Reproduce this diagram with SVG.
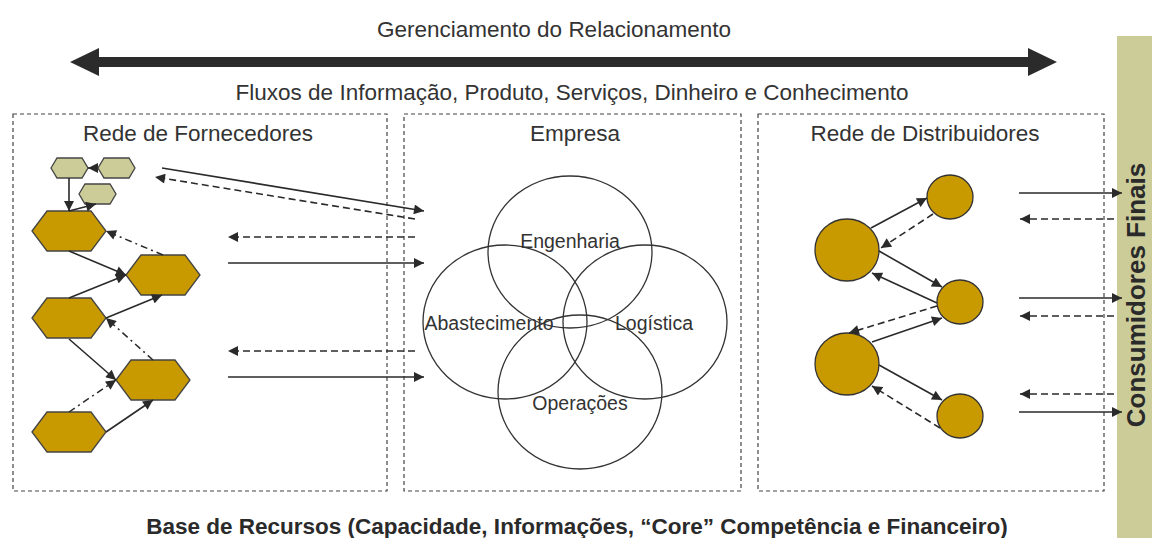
<svg xmlns="http://www.w3.org/2000/svg" width="1152" height="538" viewBox="0 0 1152 538">
<defs>
<style>
.t{font-family:"Liberation Sans",Arial,sans-serif;fill:#333;font-size:22.5px;text-anchor:middle}
.c{font-family:"Liberation Sans",Arial,sans-serif;fill:#333;font-size:19.5px;text-anchor:middle}
.b{font-family:"Liberation Sans",Arial,sans-serif;fill:#2a2a2a;font-weight:bold;text-anchor:middle}
.box{fill:none;stroke:#444;stroke-width:1.2;stroke-dasharray:4 3}
.hexL{fill:#C99A00;stroke:#444;stroke-width:1.3}
.hexS{fill:#CCCC99;stroke:#444;stroke-width:1.3}
.dot{fill:#C99A00;stroke:#333;stroke-width:1.3}
.ring{fill:none;stroke:#333;stroke-width:1.3}
.s{fill:none;stroke:#2a2a2a;stroke-width:1.6;marker-end:url(#ah)}
.d{fill:none;stroke:#2a2a2a;stroke-width:1.6;stroke-dasharray:7 4;marker-end:url(#ah)}
.dd{fill:none;stroke:#2a2a2a;stroke-width:1.5;stroke-dasharray:7 4 2 4;marker-end:url(#ah)}
</style>
<marker id="ah" viewBox="0 0 10 10" refX="10" refY="5" markerWidth="11" markerHeight="10" markerUnits="userSpaceOnUse" orient="auto">
<path d="M0,0 L10,5 L0,10 z" fill="#2a2a2a"/>
</marker>
<polygon id="hL" points="0,20 15,0 59,0 74,20 59,40 15,40"/>
<polygon id="hS" points="0,10 6,0 31,0 37,10 31,20 6,20"/>
</defs>

<g id="consumidores">
<rect x="1117" y="36" width="35" height="502" fill="#CCCC99"/>
<text class="b" style="font-size:26px" transform="translate(1145,295) rotate(-90)">Consumidores Finais</text>
</g>

<text class="t" x="554" y="37">Gerenciamento do Relacionamento</text>
<polygon points="70,62 99,48 99,57 1028,57 1028,48 1057,62 1028,76 1028,67 99,67 99,76" fill="#2b2b2b"/>
<text class="t" x="572" y="100">Fluxos de Informação, Produto, Serviços, Dinheiro e Conhecimento</text>

<g id="fornecedores">
<rect class="box" x="13" y="114" width="374" height="377"/>
<text class="t" x="198" y="141">Rede de Fornecedores</text>
<use href="#hS" class="hexS" x="51" y="158"/>
<use href="#hS" class="hexS" x="98" y="158"/>
<use href="#hS" class="hexS" x="79" y="184"/>
<use href="#hL" class="hexL" x="32" y="211"/>
<use href="#hL" class="hexL" x="126" y="255"/>
<use href="#hL" class="hexL" x="32" y="298"/>
<use href="#hL" class="hexL" x="116" y="360"/>
<use href="#hL" class="hexL" x="32" y="412"/>
</g>

<g id="empresa">
<rect class="box" x="404" y="114" width="337" height="377"/>
<text class="t" x="575" y="141">Empresa</text>
<ellipse class="ring" cx="570" cy="252" rx="82" ry="76"/>
<ellipse class="ring" cx="505" cy="322" rx="82" ry="77"/>
<ellipse class="ring" cx="645" cy="322" rx="82" ry="77"/>
<ellipse class="ring" cx="580" cy="392" rx="82" ry="77"/>
<text class="c" x="570" y="248">Engenharia</text>
<text class="c" x="489" y="330">Abastecimento</text>
<text class="c" x="654" y="330">Logística</text>
<text class="c" x="580" y="410">Operações</text>
</g>

<g id="distribuidores">
<rect class="box" x="758" y="114" width="346" height="377"/>
<text class="t" x="925" y="141">Rede de Distribuidores</text>
<ellipse class="dot" cx="950" cy="197" rx="23" ry="22"/>
<ellipse class="dot" cx="847" cy="250" rx="32" ry="31"/>
<ellipse class="dot" cx="960" cy="302" rx="23" ry="22"/>
<ellipse class="dot" cx="847" cy="364" rx="32" ry="31"/>
<ellipse class="dot" cx="960" cy="416" rx="23" ry="22"/>
</g>

<g id="connectors">
<line class="s" x1="69" y1="178" x2="69" y2="211"/>
<line class="s" x1="98" y1="168" x2="88" y2="168"/>
<line class="s" x1="69" y1="211" x2="96" y2="204"/>
<line class="s" x1="69" y1="251" x2="126" y2="275"/>
<line class="dd" x1="163" y1="255" x2="106" y2="231"/>
<line class="s" x1="69" y1="298" x2="126" y2="275"/>
<line class="s" x1="106" y1="318" x2="162" y2="295"/>
<line class="dd" x1="153" y1="360" x2="106" y2="318"/>
<line class="s" x1="69" y1="339" x2="116" y2="380"/>
<line class="dd" x1="69" y1="412" x2="116" y2="380"/>
<line class="s" x1="106" y1="432" x2="153" y2="400"/>

<line class="s" x1="162" y1="168" x2="424" y2="211"/>
<line class="d" x1="415" y1="219" x2="155" y2="177"/>
<line class="d" x1="415" y1="237" x2="228" y2="237"/>
<line class="s" x1="228" y1="263" x2="424" y2="263"/>
<line class="d" x1="415" y1="351" x2="228" y2="351"/>
<line class="s" x1="228" y1="377" x2="424" y2="377"/>

<line class="s" x1="871" y1="228" x2="927" y2="198"/>
<line class="d" x1="933" y1="214" x2="881" y2="248"/>
<line class="s" x1="879" y1="251" x2="942" y2="287"/>
<line class="s" x1="937" y1="303" x2="872" y2="273"/>
<line class="d" x1="937" y1="306" x2="849" y2="333"/>
<line class="s" x1="872" y1="342" x2="942" y2="318"/>
<line class="s" x1="879" y1="365" x2="942" y2="400"/>
<line class="d" x1="940" y1="428" x2="872" y2="386"/>

<line class="s" x1="1019" y1="193" x2="1122" y2="193"/>
<line class="d" x1="1114" y1="219" x2="1020" y2="219"/>
<line class="s" x1="1019" y1="298" x2="1122" y2="298"/>
<line class="d" x1="1114" y1="316" x2="1020" y2="316"/>
<line class="d" x1="1114" y1="394" x2="1020" y2="394"/>
<line class="s" x1="1019" y1="412" x2="1122" y2="412"/>
</g>

<text class="b" style="font-size:22.5px" x="577" y="534">Base de Recursos (Capacidade, Informações, “Core” Competência e Financeiro)</text>
</svg>
